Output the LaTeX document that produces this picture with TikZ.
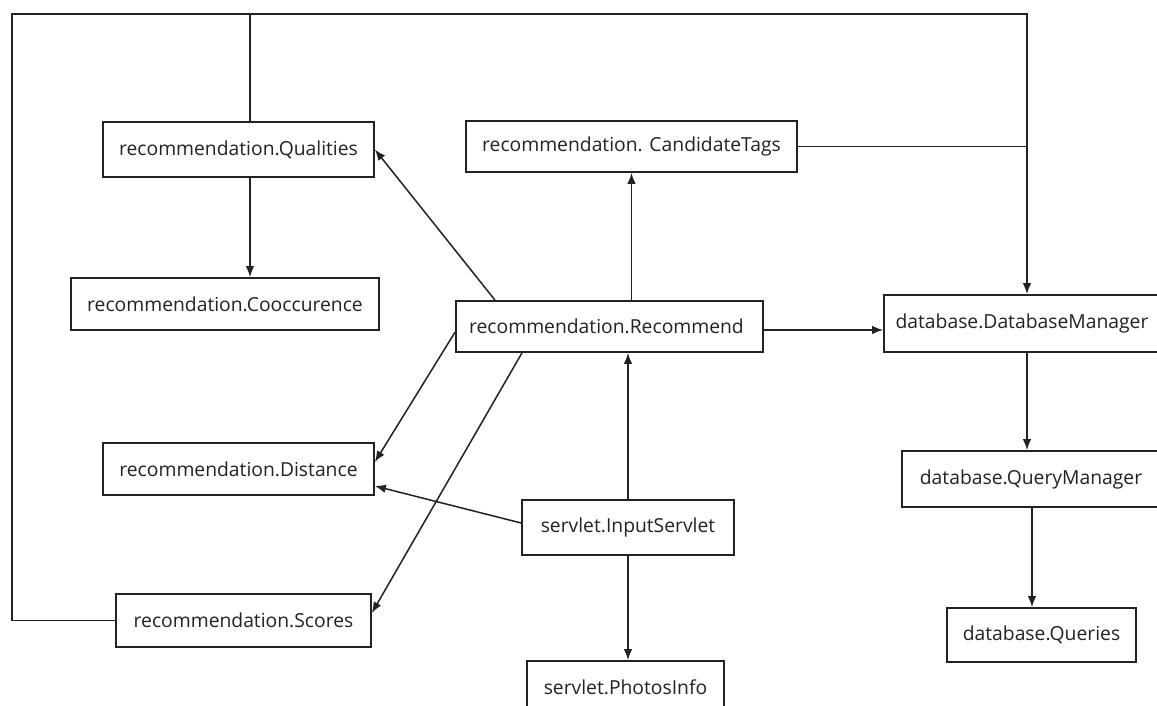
\documentclass[tikz,border=0pt]{standalone}
\usepackage{fontspec}
\setmainfont{Open Sans}
\usetikzlibrary{arrows.meta}
\definecolor{ink}{HTML}{222222}
\begin{document}
\begin{tikzpicture}[x=1pt,y=-1pt,
  box/.style={draw=ink, line width=1.7pt, fill=white, inner sep=0pt, text=ink,
    font=\fontsize{19.3}{23}\selectfont},
  conn/.style={draw=ink, line width=1.5pt},
  arr/.style={conn, -{Latex[length=11pt,width=8.5pt]}}]
\useasboundingbox (0,0) rectangle (1157,706);
\clip (0,0) rectangle (1157,706);
\fill[white] (0,0) rectangle (1157,706);

% boxes
\node[box, minimum width=271pt, minimum height=55pt] (Q)  at (238.5,149.5) {recommendation.Qualities};
\node[box, minimum width=331pt, minimum height=51pt] (CT) at (631.5,146.5) {recommendation. CandidateTags};
\node[box, minimum width=308pt, minimum height=52pt] (Co) at (225,304) {recommendation.Cooccurence};
\node[box, minimum width=307pt, minimum height=51pt] (R)  at (609.5,326.5) {recommendation.Recommend\hspace*{6pt}};
\node[box, minimum width=276pt, minimum height=57pt] (DB) at (1022,323.5) {database.DatabaseManager};
\node[box, minimum width=258pt, minimum height=56pt] (QM) at (1031,479) {database.QueryManager};
\node[box, minimum width=189pt, minimum height=54pt] (Qs) at (1041.5,635) {database.Queries};
\node[box, minimum width=271pt, minimum height=52pt] (D)  at (238.5,469) {recommendation.Distance};
\node[box, minimum width=212pt, minimum height=55pt] (IS) at (628,527.5) {servlet.InputServlet};
\node[box, minimum width=255pt, minimum height=53pt] (S)  at (243.5,620.5) {recommendation.Scores};
\node[box, minimum width=197pt, minimum height=52pt] (P)  at (625.5,687) {servlet.PhotosInfo};

% loop coordinates
\coordinate (tl) at (12,14);
\coordinate (tr) at (1027,14);
\coordinate (qa) at ([xshift=11.5pt]Q.north);
\coordinate (qb) at ([xshift=11.5pt]Q.south);

% big loop to DatabaseManager
\draw[arr] (S.west) -| (tl) -- (tr) -- (tr |- DB.north);
\draw[conn] (qa) -- (qa |- tl);
\draw[conn] (CT.east) -- (CT.east -| tr);

% connectors
\draw[arr] (qb) -- (qb |- Co.north);
\draw[arr] ([xshift=-114.5pt]R.north) -- (Q.east);
\draw[arr] (CT.south |- R.north) -- (CT.south);
\draw[arr] ([yshift=-3.5pt]R.east) -- ([yshift=-3.5pt]R.east -| DB.west);
\draw[arr] ([yshift=-5.5pt]R.west) -- ([yshift=7pt]D.east);
\draw[arr] ([xshift=-87.5pt]R.south) -- ([yshift=7.5pt]S.east);
\draw[arr] ([yshift=4.5pt]IS.west) -- ([yshift=-17pt]D.east);
\draw[arr] (IS.north) -- (IS.north |- R.south);
\draw[arr] (IS.south) -- (IS.south |- P.north);
\draw[arr] (tr |- DB.south) -- (tr |- QM.north);
\draw[arr] ([xshift=-9.5pt]Qs.north |- QM.south) -- ([xshift=-9.5pt]Qs.north);
\end{tikzpicture}
\end{document}
